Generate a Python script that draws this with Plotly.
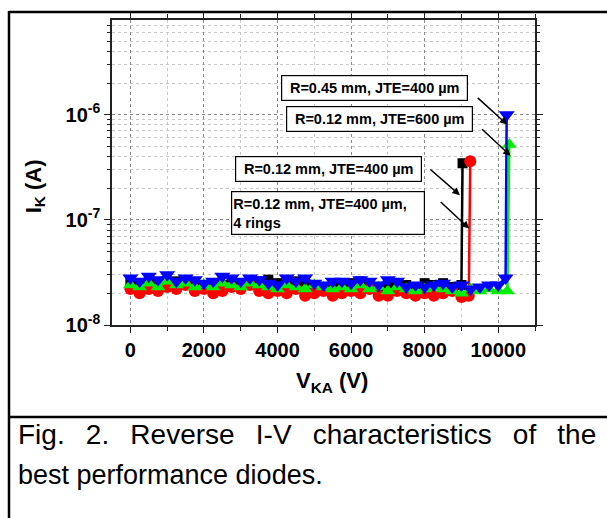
import plotly.graph_objects as go

# ---------------- data (current in units of 1e-8 A) ----------------
v_grid = [0, 250, 500, 750, 1000, 1250, 1500, 1750, 2000, 2250, 2500, 2750,
          3000, 3250, 3500, 3750, 4000, 4250, 4500, 4750, 5000, 5250, 5500,
          5750, 6000, 6250, 6500, 6750, 7000, 7250, 7500, 7750, 8000, 8250,
          8500, 8750]

black_v = v_grid + [9000, 9030]
black_i = [2.5, 2.3, 2.6, 2.4, 2.5, 2.6, 2.4, 2.5, 2.3, 2.5, 2.4, 2.6, 2.5, 2.4,
           2.6, 2.7, 2.5, 2.4, 2.6, 2.5, 2.4, 2.3, 2.5, 2.4, 2.5, 2.6, 2.4, 2.3,
           2.4, 2.3, 2.4, 2.3, 2.5, 2.4, 2.5, 2.3, 2.4, 34.5]

red_v = v_grid + [9000, 9200, 9240]
red_i = [2.2, 2.0, 2.2, 2.1, 2.3, 2.2, 2.4, 2.1, 2.2, 2.0, 2.1, 2.3, 2.2, 2.4,
         2.1, 2.0, 2.1, 2.0, 2.2, 1.9, 2.0, 2.1, 1.9, 2.0, 2.1, 2.0, 2.2, 1.9,
         1.9, 2.1, 2.0, 1.9, 2.0, 1.9, 2.0, 2.1, 1.85, 1.9, 36.0]

green_v = v_grid + [9000, 9250, 9500, 9750, 10000, 10250, 10300]
green_i = [2.4, 2.3, 2.5, 2.3, 2.6, 2.4, 2.5, 2.3, 2.4, 2.3, 2.5, 2.4, 2.3, 2.5,
           2.4, 2.3, 2.2, 2.4, 2.3, 2.2, 2.4, 2.3, 2.2, 2.3, 2.2, 2.4, 2.2, 2.3,
           2.1, 2.3, 2.2, 2.1, 2.2, 2.3, 2.2, 2.1, 2.0, 2.2, 2.1, 2.2, 2.1, 2.1,
           52.0]

blue_v = v_grid + [9000, 9250, 9500, 9750, 10000, 10200, 10230]
blue_i = [2.8, 2.6, 2.9, 2.7, 3.0, 2.6, 2.8, 2.7, 2.5, 2.6, 2.9, 2.8, 2.6, 2.8,
          2.7, 2.5, 2.4, 2.8, 2.6, 2.8, 2.5, 2.4, 2.6, 2.6, 2.5, 2.7, 2.6, 2.4,
          2.7, 2.6, 2.3, 2.4, 2.3, 2.4, 2.5, 2.3, 2.4, 2.2, 2.3, 2.4, 2.4, 2.8,
          100.0]

x_ticks = [0, 2000, 4000, 6000, 8000, 10000]
x_ticktext = ["0", "2000", "4000", "6000", "8000", "10000"]
y_ticks = [1e-8, 1e-7, 1e-6]
y_ticktext = ["10<sup>-8</sup>", "10<sup>-7</sup>", "10<sup>-6</sup>"]
y_minor = [m * d for d in (1e-8, 1e-7, 1e-6) for m in range(2, 10)]

labels = ["R=0.45 mm, JTE=400 µm", "R=0.12 mm, JTE=600 µm",
          "R=0.12 mm, JTE=400 µm", "R=0.12 mm, JTE=400 µm,<br>4 rings"]
caption1 = "Fig. 2. Reverse I-V characteristics of the"
caption2 = "best performance diodes."

# ---------------- layout geometry (pixels) ----------------
W, H = 607, 518
L, R, T, B = 112, 535, 17, 325
FONT = "Liberation Sans, Arial, sans-serif"


def px(xp):
    return (xp - L) / (R - L)


def py(yp):
    return (B - yp) / (B - T)


fig = go.Figure()

series = [
    (black_v, black_i, "black", "square", 10),
    (red_v, red_i, "red", "circle", 12),
    (green_v, green_i, "#00ee00", "triangle-up", 13),
    (blue_v, blue_i, "blue", "triangle-down", 14),
]
for v, i, col, sym, sz in series:
    fig.add_trace(go.Scatter(
        x=v, y=[val * 1e-8 for val in i], mode="lines+markers",
        line=dict(color=col, width=2.5),
        marker=dict(color=col, symbol=sym, size=sz, line=dict(width=0)),
        showlegend=False))

axis_common = dict(
    showline=True, linecolor="#222", linewidth=1.5, mirror="ticks",
    ticks="outside", ticklen=6, tickwidth=1.3, tickcolor="#222",
    showgrid=True, gridcolor="#888", griddash="dot", gridwidth=1,
    zeroline=False,
    tickfont=dict(family=FONT, size=20, color="black", weight="bold"),
)

fig.update_xaxes(
    range=[-500, 11000], tickmode="array", tickvals=x_ticks,
    ticktext=x_ticktext,
    minor=dict(dtick=1000, tick0=0, showgrid=True, gridcolor="#c8c8c8",
               griddash="dot", ticks="outside", ticklen=4, tickcolor="#222"),
    **axis_common)
fig.update_yaxes(
    type="log", range=[-8, -5.1], tickmode="array", tickvals=y_ticks,
    ticktext=y_ticktext,
    minor=dict(tickmode="array", tickvals=y_minor, showgrid=True,
               gridcolor="#c8c8c8", griddash="dot", ticks="outside",
               ticklen=3, tickcolor="#222"),
    **axis_common)

ann = []
# label boxes (centre positions in data units, y in log10)
boxes = [
    (6649, -5.748, labels[0], 183, 22, "center"),
    (6777, -6.042, labels[1], 183, 22, "center"),
    (5386, -6.513, labels[2], 183, 22, "center"),
    (5383, -6.935, labels[3], 190, 40, "left"),
]
for xb, yb, txt, w, h, al in boxes:
    ann.append(dict(
        x=xb, y=yb, xref="x", yref="y", text="<b>" + txt + "</b>",
        showarrow=False, width=w, height=h, align=al,
        xanchor="center", yanchor="middle",
        font=dict(family=FONT, size=14.5, color="black"),
        bgcolor="white", bordercolor="black", borderwidth=1.2, borderpad=1))

# arrows (head in data units, tail offset in pixels)
arrows = [(10245, -6.094, -31, -28), (10337, -6.392, -30, -28),
          (8959, -6.766, -31, -27), (9212, -7.083, -30, -28)]
for xa, ya, dx, dy in arrows:
    ann.append(dict(
        x=xa, y=ya, xref="x", yref="y", text="", showarrow=True,
        ax=dx, ay=dy, arrowhead=2, arrowsize=1, arrowwidth=1.5,
        arrowcolor="black", standoff=0, startstandoff=0))

# axis titles
ann.append(dict(x=px(35), y=py(185), xref="paper", yref="paper",
                xanchor="center", yanchor="middle",
                text="<b>I<sub>K</sub> (A)</b>", textangle=-90,
                showarrow=False, font=dict(family=FONT, size=22, color="black")))
ann.append(dict(x=px(332), y=py(383), xref="paper", yref="paper",
                xanchor="center", yanchor="middle",
                text="<b>V<sub>KA</sub> (V)</b>",
                showarrow=False, font=dict(family=FONT, size=22, color="black")))

# caption (first line is justified in the original -> widened word gaps)
gap = " " + "\u00a0\u2009"
cap1 = caption1.replace(" ", gap)
ann.append(dict(x=px(16), y=py(436), xref="paper", yref="paper", text=cap1,
                xanchor="left", yanchor="middle", showarrow=False,
                font=dict(family=FONT, size=28, color="black")))
ann.append(dict(x=px(16), y=py(476), xref="paper", yref="paper", text=caption2,
                xanchor="left", yanchor="middle", showarrow=False,
                font=dict(family=FONT, size=27, color="black")))

shapes = [
    dict(type="line", xref="paper", yref="paper", x0=px(9), x1=px(612),
         y0=py(9), y1=py(9), line=dict(color="black", width=2.5)),
    dict(type="line", xref="paper", yref="paper", x0=px(9), x1=px(9),
         y0=py(8), y1=py(525), line=dict(color="black", width=2.5)),
    dict(type="line", xref="paper", yref="paper", x0=px(9), x1=px(612),
         y0=py(418), y1=py(418), line=dict(color="black", width=2.5)),
]

fig.update_layout(
    width=W, height=H, autosize=False,
    margin=dict(l=L, r=W - R, t=T, b=H - B, pad=0),
    paper_bgcolor="white", plot_bgcolor="white",
    annotations=ann, shapes=shapes, showlegend=False,
)

fig.write_html("out.html", config={"displayModeBar": False},
               post_script="document.body.style.margin='0';"
                           "document.body.style.overflow='hidden';")
